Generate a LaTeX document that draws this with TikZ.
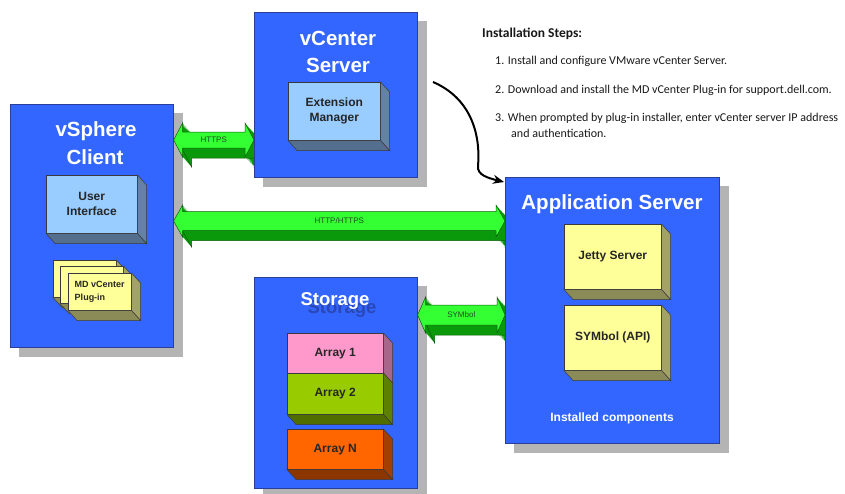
\documentclass[tikz,border=0pt]{standalone}
\usepackage{fontspec}
\setmainfont{Liberation Sans}
\newfontfamily\calfont{Carlito}
\usetikzlibrary{calc,arrows.meta}
\pgfdeclarelayer{bg}
\pgfdeclarelayer{shadowlayer}
\pgfdeclarelayer{arrowlayer}
\pgfsetlayers{bg,shadowlayer,arrowlayer,main}
\definecolor{boxblue}{HTML}{3366FF}
\definecolor{boxedge}{HTML}{2A3F9A}
\definecolor{shadowgray}{HTML}{B4B4B4}
\definecolor{lightblue}{HTML}{99CCFF}
\definecolor{lightblueside}{HTML}{6383A6}
\definecolor{yellowface}{HTML}{FFFF99}
\definecolor{yellowside}{HTML}{A3A366}
\definecolor{pinkface}{HTML}{FF99CC}
\definecolor{pinkside}{HTML}{A8668A}
\definecolor{limeface}{HTML}{99CC00}
\definecolor{limeside}{HTML}{5E8000}
\definecolor{orangeface}{HTML}{FF6600}
\definecolor{orangeside}{HTML}{A33F00}
\definecolor{faceedge}{HTML}{3A3A3A}
\definecolor{arrowgreen}{HTML}{33FF33}
\definecolor{arrowdark}{HTML}{0A990A}
\definecolor{arrowedge}{HTML}{0B5E0B}
\definecolor{arrowtext}{HTML}{1E4D1E}
\definecolor{storshadow}{HTML}{2A47B8}

% path of a double block arrow: #1 left tip, #2 right tip, #3 head length,
% #4 head half height, #5 shaft half height, #6 dx, #7 dy
\newcommand\arrowpath[7]{($(#1)+(#6,#7)$) -- ($(#1)+(#3+#6,-#4+#7)$) -- ($(#1)+(#3+#6,-#5+#7)$) -- ($(#2)+(-#3+#6,-#5+#7)$) -- ($(#2)+(-#3+#6,-#4+#7)$) -- ($(#2)+(#6,#7)$) -- ($(#2)+(-#3+#6,#4+#7)$) -- ($(#2)+(-#3+#6,#5+#7)$) -- ($(#1)+(#3+#6,#5+#7)$) -- ($(#1)+(#3+#6,#4+#7)$) -- cycle}

% #1 left, #2 right, #3 head len, #4 head half, #5 shaft half, #6 label, #7 label node name
\newcommand\blockarrow[7]{%
  \begin{pgfonlayer}{arrowlayer}
    \foreach \s in {1,...,9} {
      \fill[arrowdark] \arrowpath{#1}{#2}{#3}{#4}{#5}{0.9*\s}{1.0*\s};
    }
    \draw[arrowedge, line width=0.5pt, fill=arrowdark] \arrowpath{#1}{#2}{#3}{#4}{#5}{9}{10};
    \draw[arrowedge, line width=0.5pt, fill=arrowgreen] \arrowpath{#1}{#2}{#3}{#4}{#5}{0}{0};
    \node[arrowlabel] (#7) at ($(#1)!0.5!(#2)$) {#6};
  \end{pgfonlayer}
}

% 3D component box: #1 name, #2 x, #3 y, #4 w, #5 h, #6 front, #7 side, #8 text, #9 extra options
\newcommand\compbox[9]{%
  \node[compface, fill=#6, minimum width=#4pt, minimum height=#5pt, #9] (#1) at (#2,#3) {#8};
  \draw[faceedge, line width=0.5pt, fill=#7] (#1.north east) -- ++(9,10) -- ($(#1.south east)+(9,10)$) -- (#1.south east) -- cycle;
  \draw[faceedge, line width=0.5pt, fill=#7!85!black] (#1.south west) -- (#1.south east) -- ++(9,10) -- ($(#1.south west)+(9,10)$) -- cycle;
}

\begin{document}
\begin{tikzpicture}[x=1pt,y=-1pt,
  bigbox/.style={draw=boxedge, line width=0.6pt, fill=boxblue, anchor=north west, inner sep=0pt},
  title/.style={text=white, font=\bfseries\fontsize{20.5}{24}\selectfont, anchor=base, inner sep=0pt},
  subtitle/.style={text=white, font=\bfseries\fontsize{12}{14}\selectfont, anchor=base, inner sep=0pt},
  compface/.style={draw=faceedge, line width=0.5pt, anchor=north west, inner sep=0pt, align=center,
    font=\bfseries\fontsize{12}{15}\selectfont, text=black!85},
  arrowlabel/.style={text=arrowtext, font=\fontsize{8}{9}\selectfont, inner sep=0pt},
  steps/.style={anchor=base west, inner sep=0pt, font=\calfont\fontsize{12}{15}\selectfont, text=black!90},
  connector/.style={line width=2pt, -{Stealth[length=11pt,width=9pt]}}
]
\useasboundingbox (0,0) rectangle (845,493);
\begin{pgfonlayer}{bg}
  \fill[white] (0,0) rectangle (845,493);
\end{pgfonlayer}

% main containers
\node[bigbox, minimum width=163pt, minimum height=243pt] (vs) at (10,104) {};
\node[bigbox, minimum width=163pt, minimum height=165pt] (vc) at (254,12) {};
\node[bigbox, minimum width=214pt, minimum height=266pt] (app) at (505,177) {};
\node[bigbox, minimum width=163pt, minimum height=211pt] (st) at (254,277) {};

\begin{pgfonlayer}{shadowlayer}
  \foreach \n in {vs,vc,app,st}
    \fill[shadowgray] ($(\n.north west)+(9,9)$) rectangle ($(\n.south east)+(9,9)$);
\end{pgfonlayer}

% titles
\node[title] (vs-t1) at (96,136) {vSphere};
\node[title] (vs-t2) at (95,164) {Client};
\node[title] (vc-t1) at (338,45) {vCenter};
\node[title] (vc-t2) at (338,72) {Server};
\node[title] (app-t) at (612,209) {Application Server};
\node[title, font=\bfseries\fontsize{18.5}{22}\selectfont, text=storshadow] (st-ts) at (342,313) {Storage};
\node[title, font=\bfseries\fontsize{18.5}{22}\selectfont] (st-t) at (335,305) {Storage};
\node[subtitle] (app-note) at (612,421) {Installed components};

% components
\compbox{em}{288}{82}{92}{58}{lightblue}{lightblueside}{Extension\\Manager}{}
\compbox{ui}{46}{175}{91}{58}{lightblue}{lightblueside}{User\\Interface}{}
\compbox{pg3}{53}{260}{63}{37}{yellowface}{yellowside}{}{}
\compbox{pg2}{60}{266}{63}{37}{yellowface}{yellowside}{}{}
\compbox{pg1}{68}{273}{63}{37}{yellowface}{yellowside}{MD vCenter\\Plug-in}{align=left, font=\bfseries\fontsize{9}{12.5}\selectfont}
\compbox{jetty}{564}{224}{97}{65}{yellowface}{yellowside}{Jetty Server}{}
\compbox{api}{564}{305}{97}{65}{yellowface}{yellowside}{SYMbol (API)}{}
\compbox{arr1}{287}{333}{96}{40}{pinkface}{pinkside}{Array 1}{}
\compbox{arr2}{287}{373}{96}{41}{limeface}{limeside}{Array 2}{}
\compbox{arrN}{287}{429}{96}{40}{orangeface}{orangeside}{Array N}{}

% block arrows
\coordinate (https-l) at (vs.east |- 0,140);
\coordinate (https-r) at (vc.west |- 0,140);
\blockarrow{https-l}{https-r}{9}{17}{8}{HTTPS}{https-lab}
\coordinate (http-l) at (vs.east |- 0,221);
\coordinate (http-r) at (app.west |- 0,221);
\blockarrow{http-l}{http-r}{9}{16}{9.5}{HTTP/HTTPS}{http-lab}
\coordinate (sym-l) at (st.east |- 0,315);
\coordinate (sym-r) at (app.west |- 0,315);
\blockarrow{sym-l}{sym-r}{8}{18}{10}{SYMbol}{sym-lab}

% curved connector
\coordinate (cstart) at (433,82);
\draw[connector] (cstart) .. controls (468,97) and (481,130) .. (478,166)
  .. controls (477,175) and (488,178) .. ($(app.north west)+(-1,5)$);

% installation steps
\node[steps, font=\calfont\bfseries\fontsize{13.5}{16}\selectfont] (inst-title) at (482,37) {Installation Steps:};
\node[steps] (step1) at (495,64) {1. Install and configure VMware vCenter Server.};
\node[steps] (step2) at (495,93) {2. Download and install the MD vCenter Plug-in for support.dell.com.};
\node[steps] (step3) at (495,121) {3. When prompted by plug-in installer, enter vCenter server IP address};
\node[steps] (step3b) at (511,137) {and authentication.};
\end{tikzpicture}
\end{document}
